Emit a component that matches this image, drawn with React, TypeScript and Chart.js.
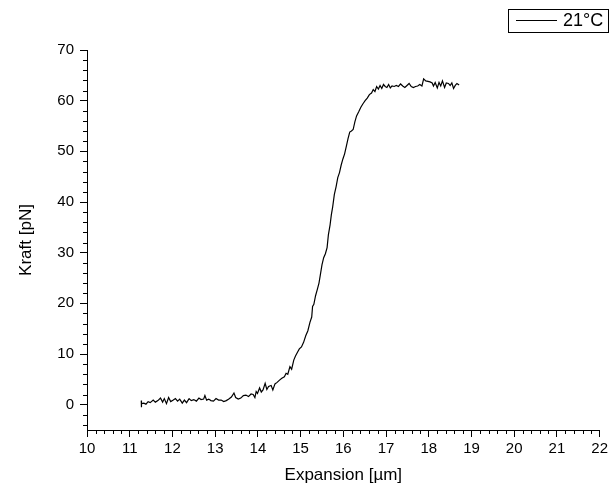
import React, { useEffect, useRef } from "react";
import { Chart, registerables } from "chart.js";

Chart.register(...registerables);

const seriesLabel = "21°C";

const expansion: number[] = [
  11.27, 11.27, 11.28, 11.33, 11.38, 11.43, 11.48, 11.55, 11.6, 11.66, 11.72, 11.77, 11.81, 11.86, 11.91, 11.96,
  12.02, 12.07, 12.12, 12.17, 12.23, 12.28, 12.33, 12.39, 12.44, 12.5, 12.56, 12.62, 12.67, 12.73, 12.76, 12.8,
  12.85, 12.9, 12.96, 13.02, 13.08, 13.14, 13.2, 13.26, 13.32, 13.38, 13.44, 13.48, 13.54, 13.6, 13.66, 13.72,
  13.78, 13.84, 13.89, 13.93, 13.96, 13.99, 14.04, 14.08, 14.12, 14.17, 14.21, 14.25, 14.31, 14.35, 14.4, 14.45,
  14.5, 14.56, 14.62, 14.66, 14.7, 14.75, 14.79, 14.84, 14.88, 14.93, 14.97, 15.02, 15.07, 15.12, 15.17, 15.22,
  15.26, 15.28, 15.31, 15.35, 15.39, 15.43, 15.46, 15.5, 15.54, 15.58, 15.62, 15.65, 15.69, 15.72, 15.75, 15.79,
  15.83, 15.87, 15.91, 15.95, 15.99, 16.03, 16.07, 16.11, 16.15, 16.19, 16.23, 16.27, 16.31, 16.36, 16.41, 16.46,
  16.51, 16.56, 16.61, 16.66, 16.7, 16.74, 16.78, 16.82, 16.86, 16.9, 16.94, 16.98, 17.02, 17.06, 17.1, 17.14,
  17.19, 17.24, 17.29, 17.34, 17.39, 17.44, 17.49, 17.54, 17.59, 17.64, 17.69, 17.74, 17.79, 17.84, 17.88, 17.93,
  17.98, 18.03, 18.08, 18.11, 18.15, 18.2, 18.24, 18.28, 18.32, 18.37, 18.41, 18.46, 18.5, 18.54, 18.58, 18.62,
  18.66, 18.71,
];

const kraft: number[] = [
  0.8, -0.5, 0.2, 0.3, 0.1, 0.6, 0.4, 0.9, 0.5, 0.8, 1.3, 0.5, 1.2, 0.2, 1.4, 0.6,
  0.9, 1.2, 0.7, 1.1, 0.3, 0.9, 0.4, 1.2, 0.8, 1.0, 0.7, 1.3, 1.0, 1.1, 1.8, 0.9,
  1.1, 0.8, 0.7, 1.2, 0.9, 0.9, 0.6, 0.8, 1.1, 1.5, 2.3, 1.4, 1.1, 1.3, 1.8, 1.9,
  1.6, 2.1, 2.0, 1.4, 2.6, 2.2, 3.3, 2.5, 2.9, 4.2, 3.0, 3.6, 3.8, 2.9, 4.1, 4.4,
  4.8, 5.2, 5.5, 6.2, 6.0, 7.5, 7.0, 8.8, 9.6, 10.4, 11.0, 11.4, 12.3, 13.6, 14.6, 16.3,
  17.3, 19.4, 19.8, 21.5, 22.7, 24.0, 25.5, 27.6, 29.0, 29.8, 31.0, 33.5, 35.5, 37.5, 39.0, 41.5,
  43.0, 44.8, 45.8, 47.3, 48.5, 49.5, 51.0, 52.5, 53.8, 54.0, 54.3, 55.8, 57.0, 57.8, 58.7, 59.4,
  60.0, 60.5, 61.2, 61.5, 62.2, 61.8, 62.8, 62.3, 63.0, 62.4, 63.2, 62.8, 62.6, 63.2, 62.5, 62.9,
  62.8, 63.0, 62.8, 63.3, 62.9, 62.6, 63.0, 63.4, 62.8, 62.6, 62.8, 62.9, 63.2, 62.9, 64.3, 63.9,
  63.8, 63.7, 63.5, 62.9, 63.6, 62.5, 63.6, 62.9, 63.9, 62.6, 63.5, 63.4, 63.0, 63.5, 62.4, 63.0,
  63.4, 63.1,
];

const xTickValues: number[] = [10, 11, 12, 13, 14, 15, 16, 17, 18, 19, 20, 21, 22];
const yTickValues: number[] = [0, 10, 20, 30, 40, 50, 60, 70];
const xMinorStep = 0.2;
const yMinorStep = 2;

const FONT = "'Liberation Sans', Arial, Helvetica, sans-serif";

const minorTicksPlugin = {
  id: "minorTicks",
  afterDraw(chart: any) {
    const { ctx, chartArea } = chart;
    const xs = chart.scales.x;
    const ys = chart.scales.y;
    ctx.save();
    ctx.strokeStyle = "#000";
    ctx.lineWidth = 1;
    ctx.beginPath();
    const xCount = Math.round((xs.max - xs.min) / xMinorStep);
    for (let i = 0; i <= xCount; i++) {
      if (i % 5 === 0) continue;
      const v = xs.min + i * xMinorStep;
      const px = Math.round(xs.getPixelForValue(v)) + 0.5;
      ctx.moveTo(px, chartArea.bottom);
      ctx.lineTo(px, chartArea.bottom + 4);
    }
    const yStart = Math.ceil(ys.min / yMinorStep) * yMinorStep;
    for (let v = yStart; v <= ys.max + 1e-9; v += yMinorStep) {
      if (Math.abs(v % 10) < 1e-9) continue;
      const py = Math.round(ys.getPixelForValue(v)) + 0.5;
      ctx.moveTo(chartArea.left, py);
      ctx.lineTo(chartArea.left - 4, py);
    }
    ctx.stroke();
    ctx.restore();
  },
};

const boxLegendPlugin = {
  id: "boxLegend",
  afterDraw(chart: any) {
    const { ctx } = chart;
    const label = chart.data.datasets[0].label as string;
    const right = chart.width - 3;
    const left = right - 100;
    const top = 9;
    const h = 23;
    ctx.save();
    ctx.strokeStyle = "#000";
    ctx.lineWidth = 1;
    ctx.strokeRect(left + 0.5, top + 0.5, 100, h);
    ctx.beginPath();
    ctx.moveTo(left + 8, top + 11.5);
    ctx.lineTo(left + 49, top + 11.5);
    ctx.stroke();
    ctx.fillStyle = "#000";
    ctx.font = `18px ${FONT}`;
    ctx.textBaseline = "middle";
    ctx.textAlign = "left";
    ctx.fillText(label, left + 55, top + 12.5);
    ctx.restore();
  },
};

export default function App() {
  const canvasRef = useRef<HTMLCanvasElement | null>(null);

  useEffect(() => {
    if (!canvasRef.current) return;
    const points = expansion.map((x, i) => ({ x, y: kraft[i] }));
    const chart = new Chart(canvasRef.current, {
      type: "scatter",
      data: {
        datasets: [
          {
            label: seriesLabel,
            data: points,
            showLine: true,
            borderColor: "#000",
            backgroundColor: "#000",
            borderWidth: 1.2,
            pointRadius: 0,
            tension: 0,
          },
        ],
      },
      plugins: [minorTicksPlugin, boxLegendPlugin],
      options: {
        animation: false,
        responsive: false,
        layout: { padding: { left: 0, right: 8, top: 50, bottom: 0 } },
        plugins: {
          legend: { display: false },
          tooltip: { enabled: false },
        },
        scales: {
          x: {
            type: "linear",
            position: "bottom",
            min: 10,
            max: 22,
            afterBuildTicks: (s: any) => {
              s.ticks = xTickValues.map((v) => ({ value: v }));
            },
            afterFit: (s: any) => {
              s.height = 57;
            },
            grid: { drawOnChartArea: false, drawTicks: true, tickLength: 7, color: "#000", lineWidth: 1 },
            border: { display: true, color: "#000", width: 1 },
            ticks: {
              color: "#000",
              font: { family: FONT, size: 15 },
              padding: 3,
              maxRotation: 0,
              autoSkip: false,
            },
            title: {
              display: true,
              text: "Expansion [µm]",
              color: "#000",
              font: { family: FONT, size: 17 },
              padding: { top: 0, bottom: 1 },
            },
          },
          y: {
            type: "linear",
            position: "left",
            min: -5,
            max: 70,
            afterBuildTicks: (s: any) => {
              s.ticks = yTickValues.map((v) => ({ value: v }));
            },
            afterFit: (s: any) => {
              s.width = 87;
            },
            grid: { drawOnChartArea: false, drawTicks: true, tickLength: 7, color: "#000", lineWidth: 1 },
            border: { display: true, color: "#000", width: 1 },
            ticks: {
              color: "#000",
              font: { family: FONT, size: 15 },
              padding: 6,
              autoSkip: false,
            },
            title: {
              display: true,
              text: "Kraft [pN]",
              color: "#000",
              font: { family: FONT, size: 17 },
              padding: { top: 16, bottom: 0 },
            },
          },
        },
      },
    });
    return () => chart.destroy();
  }, []);

  return (
    <canvas
      ref={canvasRef}
      width={611}
      height={487}
      style={{ position: "absolute", left: 0, top: 0, display: "block", width: 611, height: 487 }}
    />
  );
}
